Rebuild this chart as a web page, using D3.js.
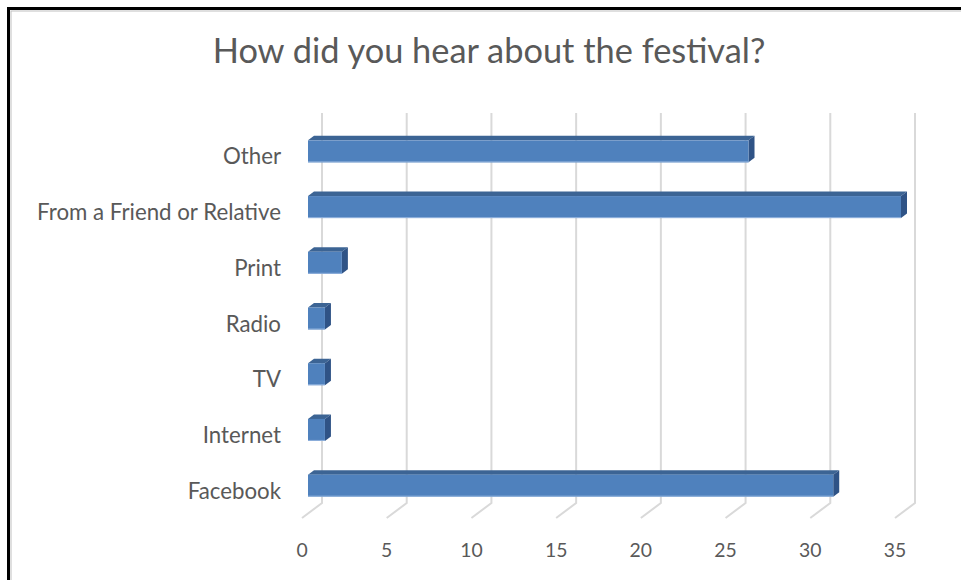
<!DOCTYPE html>
<html>
<head>
<meta charset="utf-8">
<script src="https://cdn.jsdelivr.net/npm/d3@7"></script>
<style>
  html, body { margin: 0; padding: 0; background: #fff; }
  svg { display: block; }
  text { font-family: Lato, "Open Sans", "Liberation Sans", sans-serif; fill: #595959; }
</style>
</head>
<body>
<svg id="chart" width="961" height="580"></svg>
<script>
const chartTitle = "How did you hear about the festival?";
const categories = ["Other", "From a Friend or Relative", "Print", "Radio", "TV", "Internet", "Facebook"];
const values = [26, 35, 2, 1, 1, 1, 31];
const tickValues = [0, 5, 10, 15, 20, 25, 30, 35];

const svg = d3.select("#chart");

// outer border (top and left visible)
svg.append("rect").attr("x", 11).attr("y", 11).attr("width", 1000).attr("height", 1000)
  .attr("fill", "none").attr("stroke", "#bfbfbf").attr("stroke-width", 1);
svg.append("rect").attr("x", 8.5).attr("y", 8.5).attr("width", 1000).attr("height", 1000)
  .attr("fill", "none").attr("stroke", "#000").attr("stroke-width", 3);

// back wall scales
const x = d3.scaleLinear().domain([0, 35]).range([322, 915]);
const y = d3.scaleBand().domain(categories).range([113, 503])
  .paddingInner(0.605).paddingOuter(0.3025);

// depth offsets (floor front edge = (-20, +15))
const depthDX = -20, depthDY = 15;
const frontFrac = 0.7, backFrac = 0.4;
const fdx = depthDX * frontFrac, fdy = depthDY * frontFrac;
const bdx = depthDX * backFrac, bdy = depthDY * backFrac;

// gridlines
const grid = svg.append("g");
tickValues.forEach(t => {
  const gx = x(t);
  grid.append("path")
    .attr("d", `M${gx},${y.range()[0]} L${gx},${y.range()[1]} L${gx + depthDX},${y.range()[1] + depthDY}`)
    .attr("fill", "none").attr("stroke", "#d9d9d9").attr("stroke-width", 2);
});

// bars
const bw = y.bandwidth();
const barG = svg.append("g");
categories.forEach((c, i) => {
  const v = values[i];
  const yb = y(c);
  const yf = yb + fdy;          // front face top
  const yk = yb + bdy;          // back face top
  const x0f = x(0) + fdx, xvf = x(v) + fdx;
  const x0b = x(0) + bdx, xvb = x(v) + bdx;
  // top face
  barG.append("path")
    .attr("d", `M${x0f},${yf} L${x0b},${yk} L${xvb},${yk} L${xvf},${yf} Z`)
    .attr("fill", "#3c6494");
  // side face
  barG.append("path")
    .attr("d", `M${xvf},${yf} L${xvb},${yk} L${xvb},${yk + bw} L${xvf},${yf + bw} Z`)
    .attr("fill", "#2f5386");
  // front face
  barG.append("rect")
    .attr("x", x0f).attr("y", yf).attr("width", xvf - x0f).attr("height", bw)
    .attr("fill", "#4f81bd");
  barG.append("line")
    .attr("x1", x0f).attr("x2", xvf).attr("y1", yf + bw - 0.5).attr("y2", yf + bw - 0.5)
    .attr("stroke", "#8fb1dc").attr("stroke-width", 1);
});

// fit text helper
function fitSize(sel, target) {
  sel.attr("font-size", 20);
  const w = sel.node().getComputedTextLength();
  const s = 20 * target / w;
  sel.attr("font-size", s);
  return s;
}

// category labels
const probe = svg.append("text").text("From a Friend or Relative");
const catSize = fitSize(probe, 244);
probe.remove();
const labG = svg.append("g");
categories.forEach(c => {
  labG.append("text")
    .attr("x", 281)
    .attr("y", y(c) + fdy + bw / 2 + 13)
    .attr("text-anchor", "end")
    .attr("font-size", catSize)
    .text(c);
});

// tick labels
const probe2 = svg.append("text").text("35");
const tickSize = fitSize(probe2, 22.5);
probe2.remove();
tickValues.forEach(t => {
  svg.append("text")
    .attr("x", x(t) + depthDX)
    .attr("y", 557)
    .attr("text-anchor", "middle")
    .attr("font-size", tickSize)
    .text(t);
});

// title
const title = svg.append("text")
  .attr("x", 489).attr("y", 63).attr("text-anchor", "middle")
  .text(chartTitle);
fitSize(title, 553);
</script>
</body>
</html>
